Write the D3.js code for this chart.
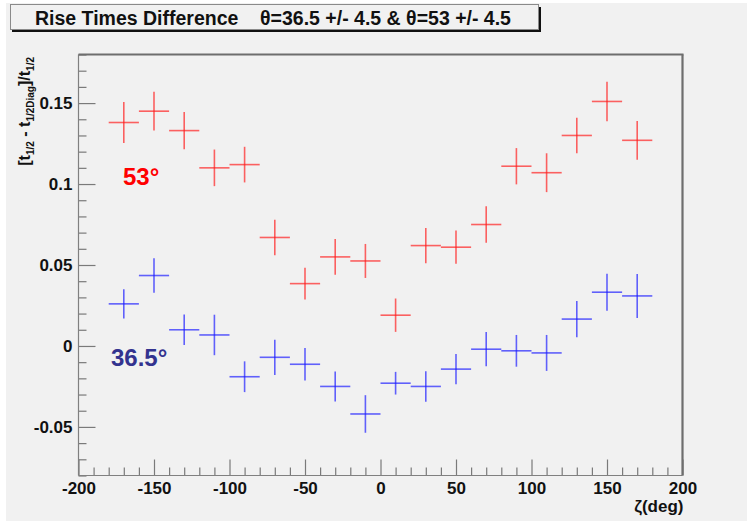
<!DOCTYPE html>
<html><head><meta charset="utf-8">
<script src="https://cdn.jsdelivr.net/npm/d3@7"></script>
<style>
html,body{margin:0;padding:0;background:#fff;}
svg{display:block;font-family:"Liberation Sans",Arial,Helvetica,sans-serif;}
</style></head>
<body><svg id="c" width="747" height="521"></svg>
<script>
// ---- data ----
const zeta = [-170,-150,-130,-110,-90,-70,-50,-30,-10,10,30,50,70,90,110,130,150,170];
const zetaHalfWidth = 10;
const red53 = [0.138,0.145,0.133,0.110,0.112,0.067,0.0385,0.055,0.0525,0.019,0.062,0.061,0.075,0.111,0.107,0.130,0.151,0.127];
const red53Err = [0.0126,0.012,0.0115,0.0113,0.011,0.011,0.0098,0.011,0.0105,0.0103,0.0109,0.0103,0.0113,0.0112,0.012,0.011,0.0122,0.012];
const blue365 = [0.026,0.0435,0.010,0.0068,-0.019,-0.007,-0.0113,-0.025,-0.042,-0.023,-0.025,-0.0143,-0.002,-0.003,-0.0043,0.0166,0.0332,0.0309];
const blue365Err = [0.0091,0.0106,0.0094,0.0125,0.0095,0.0109,0.0101,0.0093,0.0116,0.007,0.0094,0.0094,0.0106,0.0098,0.0111,0.0112,0.0114,0.0136];
const xMajorTicks = [-200,-150,-100,-50,0,50,100,150,200];
const yMajorTicks = [-0.05,0,0.05,0.1,0.15];
const xDomain = [-200,200];
const yDomain = [-0.08,0.18];

const svg = d3.select("#c");
// canvas background
svg.append("rect").attr("x",6).attr("y",3).attr("width",741).attr("height",518).attr("fill","#f1f1f1");

const L=78.5,R=682.5,T=54.5,B=475.5;
const x = d3.scaleLinear().domain(xDomain).range([L,R]);
const y = d3.scaleLinear().domain(yDomain).range([B,T]);

const xMinor = d3.range(-200,201,10).filter(v=>v%50!==0);
const yMinor = d3.range(-8,19,1).map(v=>v/100).filter(v=>Math.round(v*100)%5!==0);

const tickColor="#7a7a7a";
// minor ticks
const gxm = svg.append("g").attr("transform",`translate(0,${B})`)
  .call(d3.axisBottom(x).tickValues(xMinor).tickSize(-8).tickFormat(""));
const gym = svg.append("g").attr("transform",`translate(${L},0)`)
  .call(d3.axisLeft(y).tickValues(yMinor).tickSize(-8).tickFormat(""));
// major ticks
const gx = svg.append("g").attr("transform",`translate(0,${B})`)
  .call(d3.axisBottom(x).tickValues(xMajorTicks).tickSize(-16).tickPadding(6).tickFormat(d=>String(d)));
const gy = svg.append("g").attr("transform",`translate(${L},0)`)
  .call(d3.axisLeft(y).tickValues(yMajorTicks).tickSize(-17).tickPadding(6).tickFormat(d=>String(d)));
[gxm,gym,gx,gy].forEach(g=>{
  g.select(".domain").remove();
  g.selectAll(".tick line").attr("stroke",tickColor).attr("stroke-width",1.2);
  g.selectAll("text").attr("fill","#111").attr("font-size",17).attr("font-weight","bold");
});

// frame
svg.append("line").attr("x1",L).attr("x2",L).attr("y1",T).attr("y2",B).attr("stroke","#808080").attr("stroke-width",1.2);
svg.append("line").attr("x1",L).attr("x2",R).attr("y1",B).attr("y2",B).attr("stroke","#808080").attr("stroke-width",1.2);
svg.append("line").attr("x1",L).attr("x2",R+1).attr("y1",T).attr("y2",T).attr("stroke","#6e6e6e").attr("stroke-width",2);
svg.append("line").attr("x1",R).attr("x2",R).attr("y1",T).attr("y2",B).attr("stroke","#6e6e6e").attr("stroke-width",2.2);

// data error-bar crosses
function drawSeries(vals, errs, color){
  const g = svg.append("g").attr("stroke",color).attr("stroke-width",1.6).attr("stroke-opacity",0.68);
  const d = zeta.map((z,i)=>({z, v:vals[i], e:errs[i]}));
  g.selectAll("line.h").data(d).enter().append("line").attr("class","h")
    .attr("x1",p=>x(p.z-zetaHalfWidth)).attr("x2",p=>x(p.z+zetaHalfWidth))
    .attr("y1",p=>y(p.v)).attr("y2",p=>y(p.v));
  g.selectAll("line.v").data(d).enter().append("line").attr("class","v")
    .attr("x1",p=>x(p.z)).attr("x2",p=>x(p.z))
    .attr("y1",p=>y(p.v+p.e)).attr("y2",p=>y(p.v-p.e));
}
drawSeries(red53, red53Err, "#ff1a1a");
drawSeries(blue365, blue365Err, "#1a1aff");

// annotations
svg.append("text").attr("x",123).attr("y",185).attr("font-size",24).attr("font-weight","bold").attr("fill","#ff0000").text("53°");
svg.append("text").attr("x",111).attr("y",366).attr("font-size",24).attr("font-weight","bold").attr("fill","#33338f").text("36.5°");

// axis titles
const xt = svg.append("text").attr("x",R+1).attr("y",512).attr("text-anchor","end")
  .attr("font-size",17).attr("font-weight","bold").attr("fill","#111");
xt.text("ζ(deg)");

const yt = svg.append("text").attr("transform","translate(30,57) rotate(-90)").attr("text-anchor","end")
  .attr("font-size",16).attr("font-weight","bold").attr("fill","#111");
yt.append("tspan").text("[t");
yt.append("tspan").attr("font-size",10).attr("dy",4).text("1/2");
yt.append("tspan").attr("dy",-4).text(" - t");
yt.append("tspan").attr("font-size",10).attr("dy",4).text("1/2Diag");
yt.append("tspan").attr("dy",-4).text("]/t");
yt.append("tspan").attr("font-size",10).attr("dy",4).text("1/2");

// title box
svg.append("rect").attr("x",12).attr("y",7).attr("width",529).attr("height",25).attr("fill","#111");
svg.append("rect").attr("x",10.5).attr("y",4.5).attr("width",528).attr("height",25).attr("fill","#f1f1f1").attr("stroke","#8a8a8a").attr("stroke-width",1);
svg.append("text").attr("x",35).attr("y",25).attr("font-size",19.5).attr("font-weight","bold").attr("fill","#111")
  .attr("xml:space","preserve").style("white-space","pre")
  .text("Rise Times Difference    θ=36.5 +/- 4.5 & θ=53 +/- 4.5");
</script></body></html>
